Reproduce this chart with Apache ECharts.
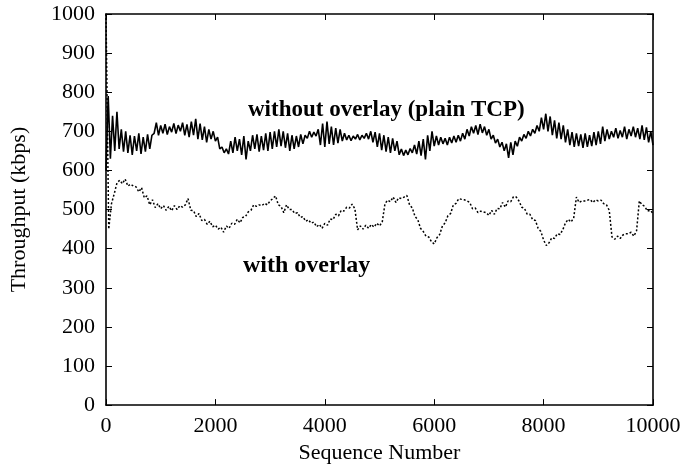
<!DOCTYPE html>
<html>
<head>
<meta charset="utf-8">
<script src="https://cdn.jsdelivr.net/npm/echarts@6/dist/echarts.min.js"></script>
<style>html,body{margin:0;padding:0;background:#fff}#c{width:686px;height:469px}</style>
</head>
<body>
<div id="c"></div>
<script>
// x-axis (sequence number) sampling steps of the two traces
const seqStepPlain = 40;
const seqStepOverlay = 50;

// Throughput without overlay (plain TCP), kbps, one value every 40 sequence numbers
const plainTcp = [
  600,790,630,740,650,750,655,705,648,700,645,690,640,688,650,695,642,685,648,692,655,690,695,722,690,
  715,695,718,692,712,698,720,694,716,700,722,690,718,685,725,690,732,680,720,678,712,672,705,680,700,
  675,685,655,660,645,655,642,675,645,685,650,680,640,688,628,675,650,690,655,692,648,688,652,695,650,
  698,655,700,660,705,662,700,658,695,650,690,655,688,660,692,668,690,682,700,685,698,688,705,665,720,
  660,725,668,712,665,708,670,705,675,695,678,690,676,688,680,692,678,690,682,695,680,700,672,698,660,
  695,652,690,648,685,645,682,650,675,640,655,638,652,640,656,645,665,642,675,638,680,628,690,650,700,
  662,688,665,685,668,682,665,685,670,688,672,690,675,695,680,705,688,712,695,715,692,718,696,712,690,
  705,680,690,670,680,660,672,650,668,632,672,640,675,662,685,675,692,682,700,688,705,695,715,700,735,
  705,745,700,738,690,728,682,722,680,715,672,705,665,698,660,695,662,692,658,695,660,690,662,698,665,
  700,668,712,675,705,680,700,685,708,682,702,685,712,680,705,688,712,685,708,680,715,678,710,672,700,
  665
];

// Throughput with overlay, kbps, one value every 50 sequence numbers
const withOverlay = [
  1000,450,515,540,568,575,566,578,560,565,560,558,545,556,530,535,512,525,505,515,
  502,510,498,508,497,510,500,510,506,512,528,498,497,482,490,472,475,462,470,456,
  460,450,455,442,458,452,465,462,475,466,480,482,494,498,512,508,512,510,516,512,
  522,528,535,512,508,492,512,500,500,490,492,480,482,470,474,465,468,456,462,452,
  465,460,476,474,488,484,498,496,506,504,514,502,448,458,450,460,452,462,455,465,
  458,468,515,524,520,532,518,530,528,532,536,512,504,482,474,452,444,432,430,418,
  412,428,436,458,466,484,490,512,516,528,526,525,522,518,502,504,492,496,494,492,
  485,498,488,503,502,518,506,522,520,533,532,522,506,503,488,488,474,472,452,444,
  422,408,415,428,426,438,436,448,466,475,468,478,532,518,522,522,524,526,518,525,
  522,524,515,512,498,430,424,432,426,435,438,438,442,432,446,522,512,508,496,498,
  490
];

const xTicks = [0, 2000, 4000, 6000, 8000, 10000];
const yTicks = [0, 100, 200, 300, 400, 500, 600, 700, 800, 900, 1000];
const labelPlain = 'without overlay (plain TCP)';
const labelOverlay = 'with overlay';
const xTitle = 'Sequence Number';
const yTitle = 'Throughput (kbps)';

const FONT = '"Liberation Serif", "DejaVu Serif", serif';
const plainPairs = plainTcp.map((v, i) => [i * seqStepPlain, v]);
const overlayPairs = withOverlay.map((v, i) => [i * seqStepOverlay, v]);

const chart = echarts.init(document.getElementById('c'), null, {renderer: 'canvas'});
const axisBase = {
  axisLine: {show: true, onZero: false, lineStyle: {color: '#000', width: 1.6}},
  axisTick: {show: true, inside: true, length: 6, lineStyle: {color: '#000', width: 1}},
  splitLine: {show: false}
};
const plainFmt = v => String(v);
chart.setOption({
  animation: false,
  backgroundColor: '#fff',
  grid: {left: 105, right: 33, top: 14, bottom: 63, containLabel: false},
  xAxis: [
    Object.assign({type: 'value', position: 'bottom', min: xTicks[0], max: xTicks[xTicks.length - 1], interval: 2000,
      name: xTitle, nameLocation: 'middle', nameGap: 31,
      nameTextStyle: {fontFamily: FONT, fontSize: 22, color: '#000'},
      axisLabel: {fontFamily: FONT, fontSize: 22, color: '#000', margin: 10, formatter: plainFmt}}, axisBase),
    Object.assign({type: 'value', position: 'top', min: xTicks[0], max: xTicks[xTicks.length - 1], interval: 2000,
      axisLabel: {show: false}}, axisBase)
  ],
  yAxis: [
    Object.assign({type: 'value', position: 'left', min: yTicks[0], max: yTicks[yTicks.length - 1], interval: 100,
      name: yTitle, nameLocation: 'middle', nameGap: 76, nameRotate: 90,
      nameTextStyle: {fontFamily: FONT, fontSize: 22, color: '#000'},
      axisLabel: {fontFamily: FONT, fontSize: 22, color: '#000', margin: 11, formatter: plainFmt}}, axisBase),
    Object.assign({type: 'value', position: 'right', min: yTicks[0], max: yTicks[yTicks.length - 1], interval: 100,
      axisLabel: {show: false}}, axisBase)
  ],
  graphic: [
    {type: 'text', left: 248, top: 99, style: {text: labelPlain, font: 'bold 23px ' + FONT, fill: '#000'}},
    {type: 'text', left: 243, top: 254, style: {text: labelOverlay, font: 'bold 24px ' + FONT, fill: '#000'}}
  ],
  series: [
    {type: 'line', name: labelPlain, data: plainPairs, showSymbol: false, symbol: 'none',
      lineStyle: {color: '#000', width: 1.6}, z: 3},
    {type: 'line', name: labelOverlay, data: overlayPairs, showSymbol: false, symbol: 'none',
      lineStyle: {color: '#000', width: 1.5, type: [2, 2]}, z: 2}
  ]
});
</script>
</body>
</html>
